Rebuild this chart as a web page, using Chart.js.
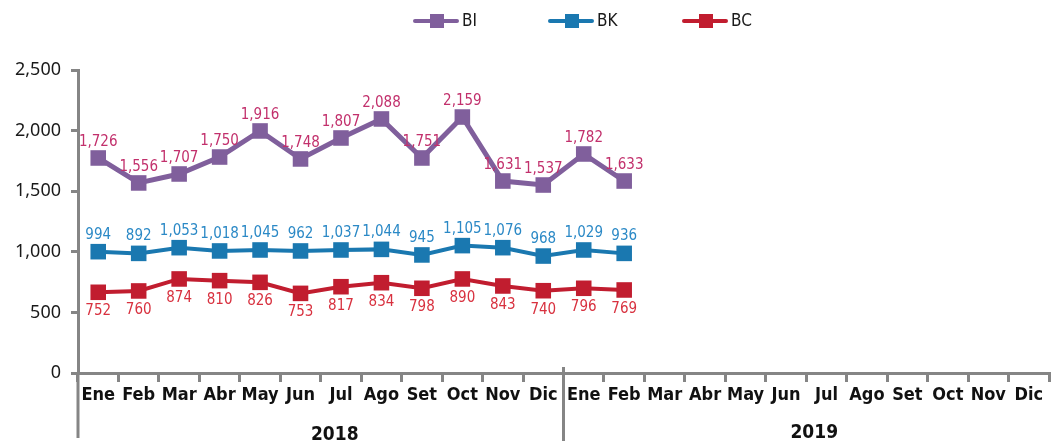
<!DOCTYPE html>
<html lang="es">
<head>
  <meta charset="UTF-8" />
  <title>BI / BK / BC</title>
  <script src="https://cdn.jsdelivr.net/npm/chart.js"></script>
  <style>
    body { margin: 0; background: #fff; }
    #wrap { width: 1060px; height: 445px; position: relative; }
  </style>
</head>
<body>
  <div id="wrap"><canvas id="chart"></canvas></div>

  <script>
    // categorias (24 meses, 2018 y 2019)
    const months = ['Ene','Feb','Mar','Abr','May','Jun','Jul','Ago','Set','Oct','Nov','Dic',
                    'Ene','Feb','Mar','Abr','May','Jun','Jul','Ago','Set','Oct','Nov','Dic'];
    const years = ['2018', '2019'];

    // posiciones de los puntos
    const biValues = [1774, 1568, 1642, 1782, 1997, 1766, 1939, 2096, 1774, 2112, 1584, 1551, 1807, 1584];
    const bkValues = [1001, 987, 1034, 1007, 1015, 1007, 1015, 1020, 974, 1051, 1034, 965, 1015, 987];
    const bcValues = [666, 677, 776, 762, 748, 657, 712, 745, 699, 776, 718, 679, 699, 685];

    // etiquetas de datos tal como aparecen
    const biLabels = ['1,726','1,556','1,707','1,750','1,916','1,748','1,807','2,088','1,751','2,159','1,631','1,537','1,782','1,633'];
    const bkLabels = ['994','892','1,053','1,018','1,045','962','1,037','1,044','945','1,105','1,076','968','1,029','936'];
    const bcLabels = ['752','760','874','810','826','753','817','834','798','890','843','740','796','769'];

    const yTicks = [0, 500, 1000, 1500, 2000, 2500];

    const NARROW = '"Liberation Sans Narrow", "DejaVu Sans Condensed", sans-serif';
    const AXIS = '#858585';

    const dataLabels = {
      id: 'dataLabels',
      afterDatasetsDraw(chart) {
        const ctx = chart.ctx;
        ctx.save();
        ctx.font = '15px ' + NARROW;
        ctx.textAlign = 'center';
        ctx.textBaseline = 'middle';
        chart.data.datasets.forEach((ds, di) => {
          chart.getDatasetMeta(di).data.forEach((pt, i) => {
            const txt = ds.valueLabels[i];
            if (!txt) return;
            ctx.fillStyle = ds.labelColor;
            ctx.fillText(txt, pt.x, pt.y + ds.labelOffset);
          });
        });
        ctx.restore();
      }
    };

    const extras = {
      id: 'extras',
      afterDraw(chart) {
        const ctx = chart.ctx;
        const x = chart.scales.x;
        const area = chart.chartArea;
        ctx.save();
        // prolongacion del eje y y separador de años
        ctx.strokeStyle = AXIS;
        ctx.lineWidth = 3;
        const sep = (x.getPixelForValue(11) + x.getPixelForValue(12)) / 2;
        ctx.beginPath();
        ctx.moveTo(area.left, area.bottom);
        ctx.lineTo(area.left, 438);
        ctx.moveTo(sep, area.bottom - 6);
        ctx.lineTo(sep, 441);
        ctx.stroke();

        // años
        ctx.fillStyle = '#111';
        ctx.font = 'bold 19px ' + NARROW;
        ctx.textAlign = 'center';
        ctx.textBaseline = 'middle';
        const c1 = (x.getPixelForValue(0) + x.getPixelForValue(11)) / 2 + 14;
        const c2 = (x.getPixelForValue(12) + x.getPixelForValue(23)) / 2 + 8;
        ctx.fillText(years[0], c1, 435);
        ctx.fillText(years[1], c2, 433);

        // leyenda
        const centers = [437, 572, 706];
        chart.data.datasets.forEach((ds, i) => {
          const cx = centers[i], cy = 21;
          ctx.strokeStyle = ds.borderColor;
          ctx.lineWidth = 4;
          ctx.lineCap = 'round';
          ctx.beginPath();
          ctx.moveTo(cx - 22, cy);
          ctx.lineTo(cx + 20, cy);
          ctx.stroke();
          ctx.fillStyle = ds.backgroundColor;
          ctx.fillRect(cx - 7, cy - 7, 14, 14);
          ctx.fillStyle = '#1a1a1a';
          ctx.font = '17px ' + NARROW;
          ctx.textAlign = 'left';
          ctx.fillText(ds.label, cx + 25, cy + 1);
        });
        ctx.restore();
      }
    };

    function series(label, values, color, labels, labelColor, offset, width) {
      return {
        label: label,
        data: values,
        borderColor: color,
        backgroundColor: color,
        borderWidth: width,
        pointStyle: 'rect',
        pointRadius: 11,
        pointHoverRadius: 11,
        pointBorderWidth: 0,
        tension: 0,
        valueLabels: labels,
        labelColor: labelColor,
        labelOffset: offset
      };
    }

    new Chart(document.getElementById('chart'), {
      type: 'line',
      data: {
        labels: months,
        datasets: [
          series('BI', biValues, '#805f9c', biLabels, '#c2306c', -16, 5),
          series('BK', bkValues, '#1a78b0', bkLabels, '#2b89c6', -17, 4),
          series('BC', bcValues, '#c11d2f', bcLabels, '#d8313f', 19, 4)
        ]
      },
      plugins: [dataLabels, extras],
      options: {
        responsive: true,
        maintainAspectRatio: false,
        animation: false,
        layout: { padding: { top: 70, right: 2, left: 0, bottom: 0 } },
        plugins: { legend: { display: false }, tooltip: { enabled: false } },
        scales: {
          x: {
            offset: true,
            afterFit(scale) { scale.height = 72; },
            grid: { offset: true, drawOnChartArea: false, tickLength: 9, color: AXIS, lineWidth: 3 },
            border: { color: AXIS, width: 3 },
            ticks: {
              color: '#111',
              padding: 3,
              maxRotation: 0,
              autoSkip: false,
              font: { family: NARROW, size: 18, weight: 'bold' }
            }
          },
          y: {
            min: 0,
            max: 2500,
            afterFit(scale) { scale.width = 78; },
            afterBuildTicks(scale) { scale.ticks = yTicks.map(v => ({ value: v })); },
            grid: { drawOnChartArea: false, tickLength: 7, color: AXIS, lineWidth: 3 },
            border: { color: AXIS, width: 3 },
            ticks: {
              color: '#1a1a1a',
              padding: 10,
              font: { family: '"Noto Sans", sans-serif', size: 18 },
              callback: v => v.toLocaleString('en-US')
            }
          }
        }
      }
    });
  </script>
</body>
</html>
